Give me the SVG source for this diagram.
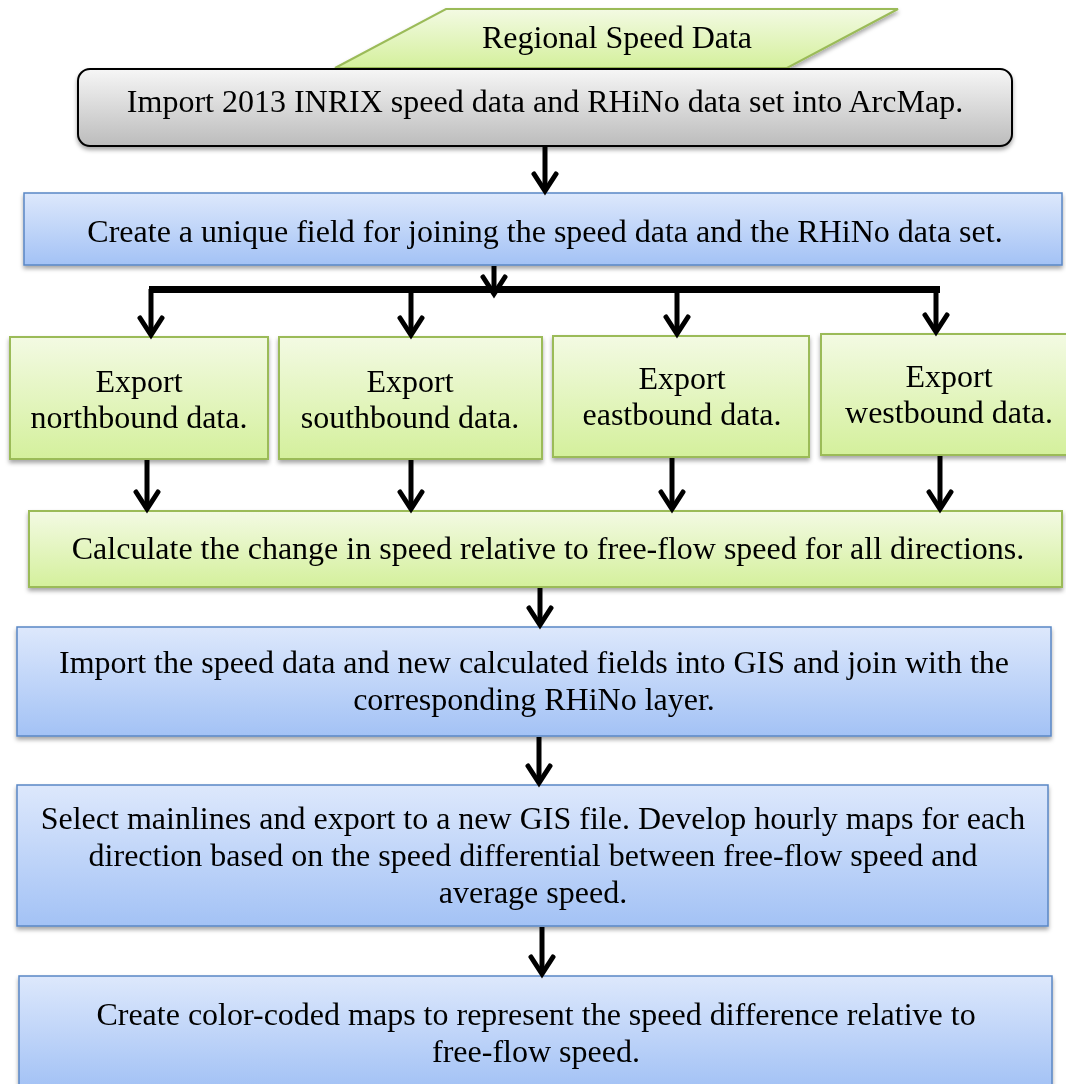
<svg xmlns="http://www.w3.org/2000/svg" width="1066" height="1084" viewBox="0 0 1066 1084">
<style>
.t{font-family:"Liberation Serif","Times New Roman",serif;font-size:32px;fill:#000;text-anchor:middle}
.blue{fill:url(#gB);stroke:#5a87c5;stroke-width:1.5}
.green{fill:url(#gG);stroke:#9bbb59;stroke-width:2}
.gray{fill:url(#gK);stroke:#000;stroke-width:2}
.c{stroke:#000;stroke-width:5;fill:none}
</style>
<defs>
<linearGradient id="gB" x1="0" y1="0" x2="0" y2="1"><stop offset="0" stop-color="#dde8fc"/><stop offset="1" stop-color="#a3c2f5"/></linearGradient>
<linearGradient id="gG" x1="0" y1="0" x2="0" y2="1"><stop offset="0" stop-color="#f3fae3"/><stop offset="1" stop-color="#d4f09c"/></linearGradient>
<linearGradient id="gK" x1="0" y1="0" x2="0" y2="1"><stop offset="0" stop-color="#f6f6f6"/><stop offset="1" stop-color="#bcbcbc"/></linearGradient>
<filter id="sh" x="-5%" y="-10%" width="110%" height="130%"><feDropShadow dx="0" dy="3" stdDeviation="2" flood-color="#000" flood-opacity="0.35"/></filter>
<marker id="ah" markerWidth="30" markerHeight="30" viewBox="-20 -15 25 30" refX="0" refY="0" orient="auto" markerUnits="userSpaceOnUse" overflow="visible">
<path d="M-17,-11 L0,0 L-17,11" fill="none" stroke="#000" stroke-width="5" stroke-linecap="round" stroke-linejoin="miter"/>
</marker>
</defs>
<g id="n0" filter="url(#sh)">
<polygon points="446,9 898,9 787,68 335,68" class="green"/>
<text class="t" x="617" y="48">Regional Speed Data</text>
</g>
<g id="n1" filter="url(#sh)">
<rect x="78" y="69" width="934" height="77" rx="12" class="gray"/>
<text class="t" x="545" y="112">Import 2013 INRIX speed data and RHiNo data set into ArcMap.</text>
</g>
<g id="n2" filter="url(#sh)">
<rect x="24" y="193" width="1038" height="72" class="blue"/>
<text class="t" x="545" y="242">Create a unique field for joining the speed data and the RHiNo data set.</text>
</g>
<g id="n3" filter="url(#sh)">
<rect x="10" y="337" width="258" height="122" class="green"/>
<text class="t" x="139" y="392">Export</text>
<text class="t" x="139" y="428">northbound data.</text>
</g>
<g id="n4" filter="url(#sh)">
<rect x="279" y="337" width="263" height="122" class="green"/>
<text class="t" x="410" y="392">Export</text>
<text class="t" x="410" y="428">southbound data.</text>
</g>
<g id="n5" filter="url(#sh)">
<rect x="553" y="336" width="256" height="121" class="green"/>
<text class="t" x="682" y="389">Export</text>
<text class="t" x="682" y="425">eastbound data.</text>
</g>
<g id="n6" filter="url(#sh)">
<rect x="821" y="334" width="250" height="121" class="green"/>
<text class="t" x="949" y="387">Export</text>
<text class="t" x="949" y="423">westbound data.</text>
</g>
<g id="n7" filter="url(#sh)">
<rect x="29" y="511" width="1033" height="76" class="green"/>
<text class="t" x="548" y="559">Calculate the change in speed relative to free-flow speed for all directions.</text>
</g>
<g id="n8" filter="url(#sh)">
<rect x="17" y="627" width="1034" height="109" class="blue"/>
<text class="t" x="534" y="673">Import the speed data and new calculated fields into GIS and join with the</text>
<text class="t" x="534" y="710">corresponding RHiNo layer.</text>
</g>
<g id="n9" filter="url(#sh)">
<rect x="17" y="785" width="1031" height="141" class="blue"/>
<text class="t" x="533" y="829">Select mainlines and export to a new GIS file. Develop hourly maps for each</text>
<text class="t" x="533" y="866">direction based on the speed differential between free-flow speed and</text>
<text class="t" x="533" y="903">average speed.</text>
</g>
<g id="n10" filter="url(#sh)">
<rect x="19" y="976" width="1033" height="112" class="blue"/>
<text class="t" x="536" y="1025">Create color-coded maps to represent the speed difference relative to</text>
<text class="t" x="536" y="1062">free-flow speed.</text>
</g>
<g id="connectors">
<line class="c" x1="545" y1="147" x2="545" y2="191" marker-end="url(#ah)"/>
<line class="c" x1="494" y1="266" x2="494" y2="294" marker-end="url(#ah)"/>
<line x1="149" y1="289.5" x2="940" y2="289.5" stroke="#000" stroke-width="7"/>
<line class="c" x1="151" y1="289" x2="151" y2="335" marker-end="url(#ah)"/>
<line class="c" x1="411" y1="289" x2="411" y2="335" marker-end="url(#ah)"/>
<line class="c" x1="677" y1="289" x2="677" y2="334" marker-end="url(#ah)"/>
<line class="c" x1="936" y1="289" x2="936" y2="332" marker-end="url(#ah)"/>
<line class="c" x1="147" y1="460" x2="147" y2="509" marker-end="url(#ah)"/>
<line class="c" x1="411" y1="460" x2="411" y2="509" marker-end="url(#ah)"/>
<line class="c" x1="672" y1="458" x2="672" y2="509" marker-end="url(#ah)"/>
<line class="c" x1="940" y1="456" x2="940" y2="509" marker-end="url(#ah)"/>
<line class="c" x1="540" y1="588" x2="540" y2="625" marker-end="url(#ah)"/>
<line class="c" x1="539" y1="737" x2="539" y2="783" marker-end="url(#ah)"/>
<line class="c" x1="542" y1="927" x2="542" y2="974" marker-end="url(#ah)"/>
</g>
</svg>
